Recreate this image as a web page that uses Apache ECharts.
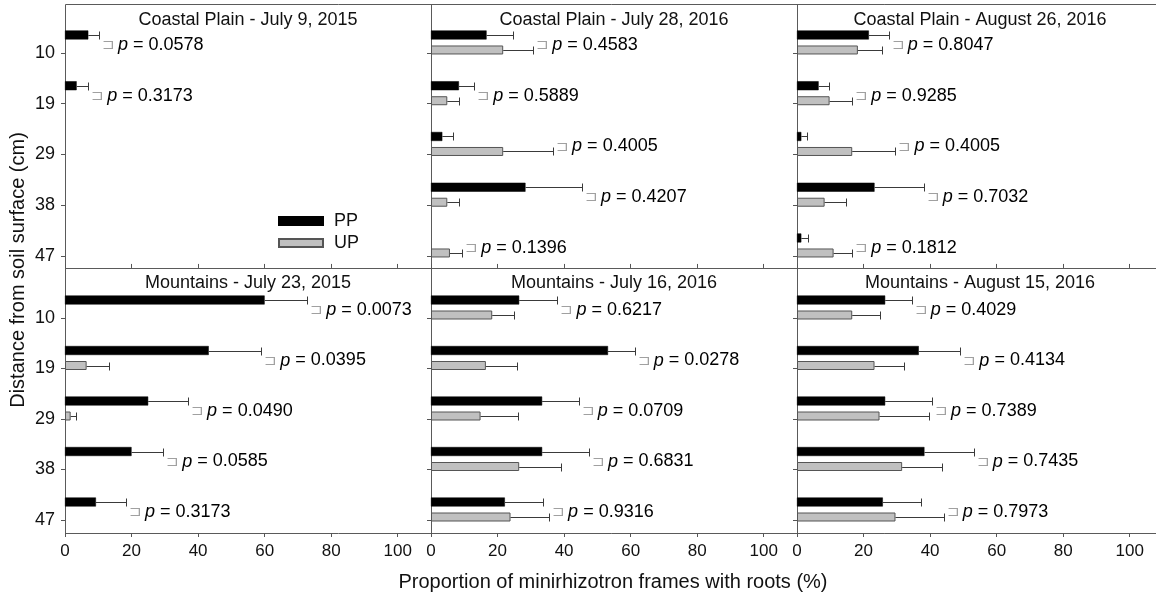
<!DOCTYPE html>
<html>
<head>
<meta charset="utf-8">
<title>Root frames by depth</title>
<script src="https://cdn.jsdelivr.net/npm/echarts@6/dist/echarts.min.js"></script>
<style>
  html, body { margin: 0; padding: 0; background: #fff; }
  #chart { width: 1156px; height: 601px; }
</style>
</head>
<body>
<div id="chart"></div>
<script>
// Depth categories (cm) shared by every panel
const depths = ['10', '19', '29', '38', '47'];

const panelTitles = [
  'Coastal Plain - July 9, 2015',
  'Coastal Plain - July 28, 2016',
  'Coastal Plain - August 26, 2016',
  'Mountains - July 23, 2015',
  'Mountains - July 16, 2016',
  'Mountains - August 15, 2016'
];

// Mean proportion of frames with roots (%) and standard errors, one row per panel
const ppMean = [
  [7.0, 3.5, 0, 0, 0],
  [16.7, 8.4, 3.4, 28.4, 0],
  [21.6, 6.5, 1.3, 23.3, 1.3],
  [60.0, 43.2, 25.0, 20.0, 9.3],
  [26.5, 53.2, 33.4, 33.4, 22.2],
  [26.5, 36.6, 26.5, 38.3, 25.8]
];
const ppErr = [
  [3.2, 3.5, 0, 0, 0],
  [8.0, 4.6, 3.3, 17.0, 0],
  [6.0, 3.1, 1.8, 14.8, 2.0],
  [12.8, 15.8, 12.0, 9.5, 9.0],
  [11.5, 8.0, 11.0, 14.1, 11.5],
  [8.0, 12.5, 14.1, 14.8, 11.5]
];
const upMean = [
  [0, 0, 0, 0, 0],
  [21.7, 4.9, 21.7, 4.9, 5.7],
  [18.3, 9.8, 16.6, 8.3, 11.0],
  [0, 6.5, 1.7, 0, 0],
  [18.4, 16.5, 14.9, 26.5, 23.9],
  [16.6, 23.3, 24.8, 31.6, 29.6]
];
const upErr = [
  [0, 0, 0, 0, 0],
  [9.0, 3.5, 15.0, 3.5, 3.7],
  [7.3, 6.8, 13.0, 6.5, 5.6],
  [0, 6.8, 1.6, 0, 0],
  [6.6, 9.2, 11.1, 12.7, 11.6],
  [8.4, 9.0, 15.0, 12.0, 14.5]
];
const pValues = [
  ['0.0578', '0.3173', null, null, null],
  ['0.4583', '0.5889', '0.4005', '0.4207', '0.1396'],
  ['0.8047', '0.9285', '0.4005', '0.7032', '0.1812'],
  ['0.0073', '0.0395', '0.0490', '0.0585', '0.3173'],
  ['0.6217', '0.0278', '0.0709', '0.6831', '0.9316'],
  ['0.4029', '0.4134', '0.7389', '0.7435', '0.7973']
];
const xTicks = { min: 0, max: 110, step: 20 };

// ---- layout ----
const FONT = '"Liberation Sans", Arial, Helvetica, sans-serif';
const TEXT = '#111111';
const COL_X = [65, 431, 797];
const COL_W = 366;
const ROWS = [
  { top: 27.6, height: 253.75, shift: -13.4, titleY: 20 },
  { top: 292.75, height: 252.5, shift: -12.25, titleY: 283 }
];
const FRAME = { left: 65, top: 4, right: 1163, mid: 268, bottom: 533 };

// bar slots: PP, UP, then an empty slot that keeps UP next to the tick
const BAR_W = 9, GAP_PCT = 2 / 3, PAD_W = 15;
const slotSum = 2 * BAR_W * (1 + GAP_PCT) + PAD_W;
const PP_OFF = -slotSum / 2 + BAR_W / 2;
const UP_OFF = PP_OFF + BAR_W * (1 + GAP_PCT);

// a zero mean leaves no visible bar
const barValues = (arr) => arr.map((v) => (v > 0 ? v : '-'));

function errorBars(offset) {
  return function (params, api) {
    const v = api.value(0), c = api.value(1), e = api.value(2);
    if (!e) return null;
    const a = api.coord([v, c]);
    const b = api.coord([v + e, c]);
    const y = Math.round(a[1] + offset) + 0.5;
    const bx = Math.round(b[0]) + 0.5;
    return {
      type: 'group',
      children: [
        { type: 'line', shape: { x1: a[0], y1: y, x2: bx, y2: y }, style: { stroke: '#3a3a3a', lineWidth: 1 } },
        { type: 'line', shape: { x1: bx, y1: y - 4, x2: bx, y2: y + 4 }, style: { stroke: '#3a3a3a', lineWidth: 1 } }
      ]
    };
  };
}

const grid = [], xAxis = [], yAxis = [], series = [], graphic = [];

for (let p = 0; p < 6; p++) {
  const row = Math.floor(p / 3), col = p % 3;
  const R = ROWS[row];
  grid.push({
    left: COL_X[col], width: COL_W, top: R.top, height: R.height,
    containLabel: false, outerBoundsMode: 'none'
  });
  xAxis.push({
    type: 'value', gridIndex: p, min: xTicks.min, max: xTicks.max, interval: xTicks.step,
    offset: R.shift,
    axisLine: { show: false },
    axisTick: { show: true, inside: row === 0, length: 4, lineStyle: { color: '#555' } },
    axisLabel: { show: row === 1, showMaxLabel: false, fontSize: 17, margin: 10, color: TEXT, fontFamily: FONT },
    splitLine: { show: false }
  });
  yAxis.push({
    type: 'category', gridIndex: p, data: depths, inverse: true,
    axisLine: { show: false },
    axisTick: { show: true, alignWithLabel: true, length: 4, lineStyle: { color: '#555' } },
    axisLabel: { show: col === 0, fontSize: 18, margin: 10, color: TEXT, fontFamily: FONT },
    splitLine: { show: false }
  });

  const common = { xAxisIndex: p, yAxisIndex: p, barWidth: BAR_W, barGap: (GAP_PCT * 100) + '%' };
  series.push(Object.assign({
    type: 'bar', name: 'PP', data: barValues(ppMean[p]),
    itemStyle: { color: '#000', borderColor: '#000', borderWidth: 0.5 }
  }, common));
  series.push(Object.assign({
    type: 'bar', name: 'UP', data: barValues(upMean[p]),
    itemStyle: { color: '#c0c0c0', borderColor: '#555', borderWidth: 1 }
  }, common));
  series.push(Object.assign({
    type: 'bar', name: 'pad', data: depths.map(() => '-'), silent: true
  }, common, { barWidth: PAD_W }));

  series.push({
    type: 'custom', name: 'PP error', xAxisIndex: p, yAxisIndex: p,
    renderItem: errorBars(PP_OFF), encode: { x: 0, y: 1 }, silent: true, z: 3,
    data: depths.map((d, i) => [ppMean[p][i], i, ppErr[p][i]])
  });
  series.push({
    type: 'custom', name: 'UP error', xAxisIndex: p, yAxisIndex: p,
    renderItem: errorBars(UP_OFF), encode: { x: 0, y: 1 }, silent: true, z: 3,
    data: depths.map((d, i) => [upMean[p][i], i, upErr[p][i]])
  });

  // p-value notes placed just past the longer error bar of each pair
  const notes = [];
  depths.forEach((d, i) => {
    if (pValues[p][i] == null) return;
    const end = Math.max(ppMean[p][i] + ppErr[p][i], upMean[p][i] + upErr[p][i]);
    notes.push({ value: [end, i], p: pValues[p][i] });
  });
  series.push({
    type: 'scatter', name: 'p value', xAxisIndex: p, yAxisIndex: p,
    symbolSize: 0, itemStyle: { color: TEXT, opacity: 1 }, silent: true, z: 4,
    data: notes,
    label: {
      show: true, position: 'right', distance: 3, offset: [0, -8],
      color: '#000', fontSize: 18, fontFamily: FONT,
      formatter: (prm) => '{br|\u2290}{it|p}{t| = ' + prm.data.p + '}',
      rich: {
        br: { color: '#a0a0a0', fontSize: 15, fontFamily: FONT, padding: [0, 3, 0, 0] },
        it: { fontStyle: 'italic', fontSize: 18, color: '#000', fontFamily: FONT },
        t: { fontSize: 18, color: '#000', fontFamily: FONT }
      }
    }
  });

  graphic.push({
    type: 'text', x: COL_X[col] + COL_W / 2, y: R.titleY, silent: true,
    style: { text: panelTitles[p], fill: TEXT, font: '18px ' + FONT, align: 'center', verticalAlign: 'middle' }
  });
}

// panel frames
graphic.push({
  type: 'group', silent: true, z: 10,
  children: [
    { type: 'rect', shape: { x: FRAME.left + 0.5, y: FRAME.top + 0.5, width: FRAME.right - FRAME.left, height: FRAME.bottom - FRAME.top },
      style: { fill: null, stroke: '#5a5a5a', lineWidth: 1 } },
    { type: 'line', shape: { x1: FRAME.left, y1: FRAME.mid + 0.5, x2: FRAME.right, y2: FRAME.mid + 0.5 },
      style: { stroke: '#5a5a5a', lineWidth: 1 } },
    { type: 'line', shape: { x1: COL_X[1] + 0.5, y1: FRAME.top, x2: COL_X[1] + 0.5, y2: FRAME.bottom },
      style: { stroke: '#5a5a5a', lineWidth: 1 } },
    { type: 'line', shape: { x1: COL_X[2] + 0.5, y1: FRAME.top, x2: COL_X[2] + 0.5, y2: FRAME.bottom },
      style: { stroke: '#5a5a5a', lineWidth: 1 } }
  ]
});
// axis titles
graphic.push({
  type: 'text', x: 18, y: 270, rotation: Math.PI / 2, silent: true,
  style: { text: 'Distance from soil surface (cm)', fill: TEXT, font: '20px ' + FONT, align: 'center', verticalAlign: 'middle' }
});
graphic.push({
  type: 'text', x: 613, y: 582, silent: true,
  style: { text: 'Proportion of minirhizotron frames with roots (%)', fill: TEXT, font: '20px ' + FONT, align: 'center', verticalAlign: 'middle' }
});

const chart = echarts.init(document.getElementById('chart'), null, { renderer: 'canvas' });
chart.setOption({
  animation: false,
  backgroundColor: '#fff',
  textStyle: { fontFamily: FONT },
  legend: {
    data: ['PP', 'UP'], orient: 'vertical', left: 278, top: 212, padding: 0,
    itemWidth: 44, itemHeight: 8, itemGap: 4, icon: 'rect', selectedMode: false,
    textStyle: { fontSize: 18, color: TEXT, fontFamily: FONT, padding: [0, 0, 0, 6] }
  },
  grid, xAxis, yAxis, series, graphic
});
</script>
</body>
</html>
